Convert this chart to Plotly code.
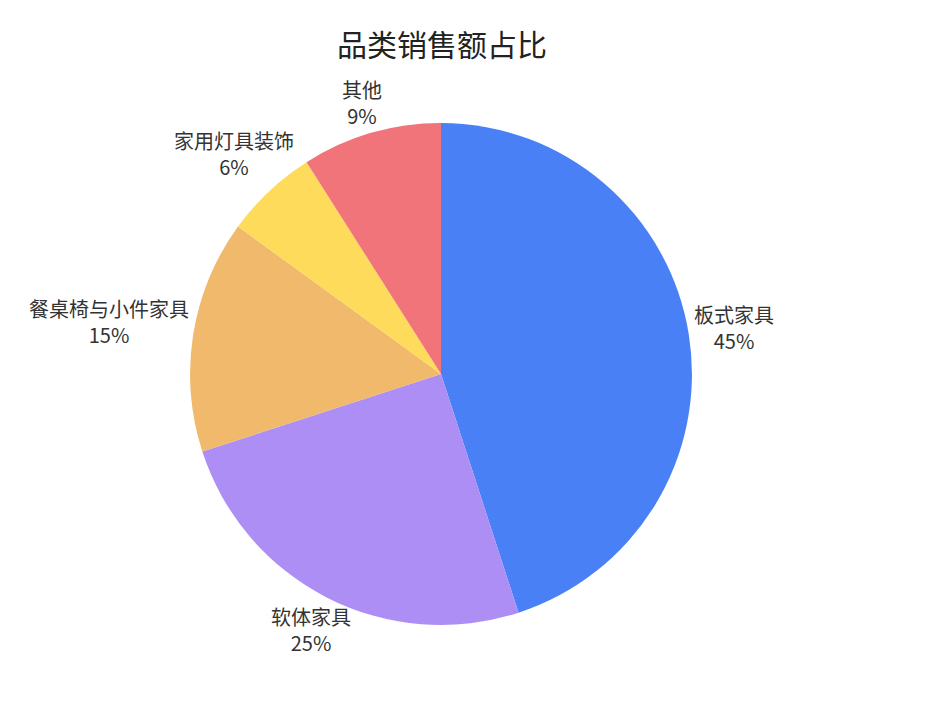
import math
import plotly.graph_objects as go

categories = ["板式家具", "软体家具", "餐桌椅与小件家具", "家用灯具装饰", "其他"]
shares = [45, 25, 15, 6, 9]
colors = ["#4a80f6", "#ad8ef5", "#f0b96b", "#fedb5b", "#f07479"]

W, H = 936, 717
dom_x = [0.1944, 0.7308]
dom_y = [0.1395, 0.8395]
label_size = 20

fig = go.Figure(go.Pie(
    labels=categories,
    values=shares,
    sort=False,
    direction="clockwise",
    rotation=0,
    marker=dict(colors=colors, line=dict(width=0)),
    textinfo="none",
    hoverinfo="label+percent",
    domain=dict(x=dom_x, y=dom_y),
    showlegend=False,
))

# outside labels, echarts-like: centred on the slice's mid angle, just past the rim
cx = (dom_x[0] + dom_x[1]) / 2
cy = (dom_y[0] + dom_y[1]) / 2
r = min((dom_x[1] - dom_x[0]) * W, (dom_y[1] - dom_y[0]) * H) / 2
total = sum(shares)
cum = 0
for name, v in zip(categories, shares):
    mid = (cum + v / 2) / total * 2 * math.pi
    cum += v
    s, c = math.sin(mid), math.cos(mid)
    hw = len(name) * label_size / 2
    hh = label_size * 1.3
    d = r + 6 + math.hypot(hw * s, hh * c)
    fig.add_annotation(
        x=cx + d * s / W, y=cy + d * c / H, xref="paper", yref="paper",
        text=f"{name}<br>{round(v / total * 100)}%",
        showarrow=False, xanchor="center", yanchor="middle", align="center",
        font=dict(size=label_size, color="#333333"),
    )

fig.update_layout(
    width=W,
    height=H,
    margin=dict(l=0, r=0, t=0, b=0),
    paper_bgcolor="white",
    font=dict(family="Noto Sans CJK SC, Noto Sans, sans-serif", color="#333333"),
    title=dict(text="品类销售额占比", x=0.4637, xanchor="center", y=0.948, yanchor="middle",
               font=dict(size=30, color="#222222")),
)

fig.write_html("out.html")
